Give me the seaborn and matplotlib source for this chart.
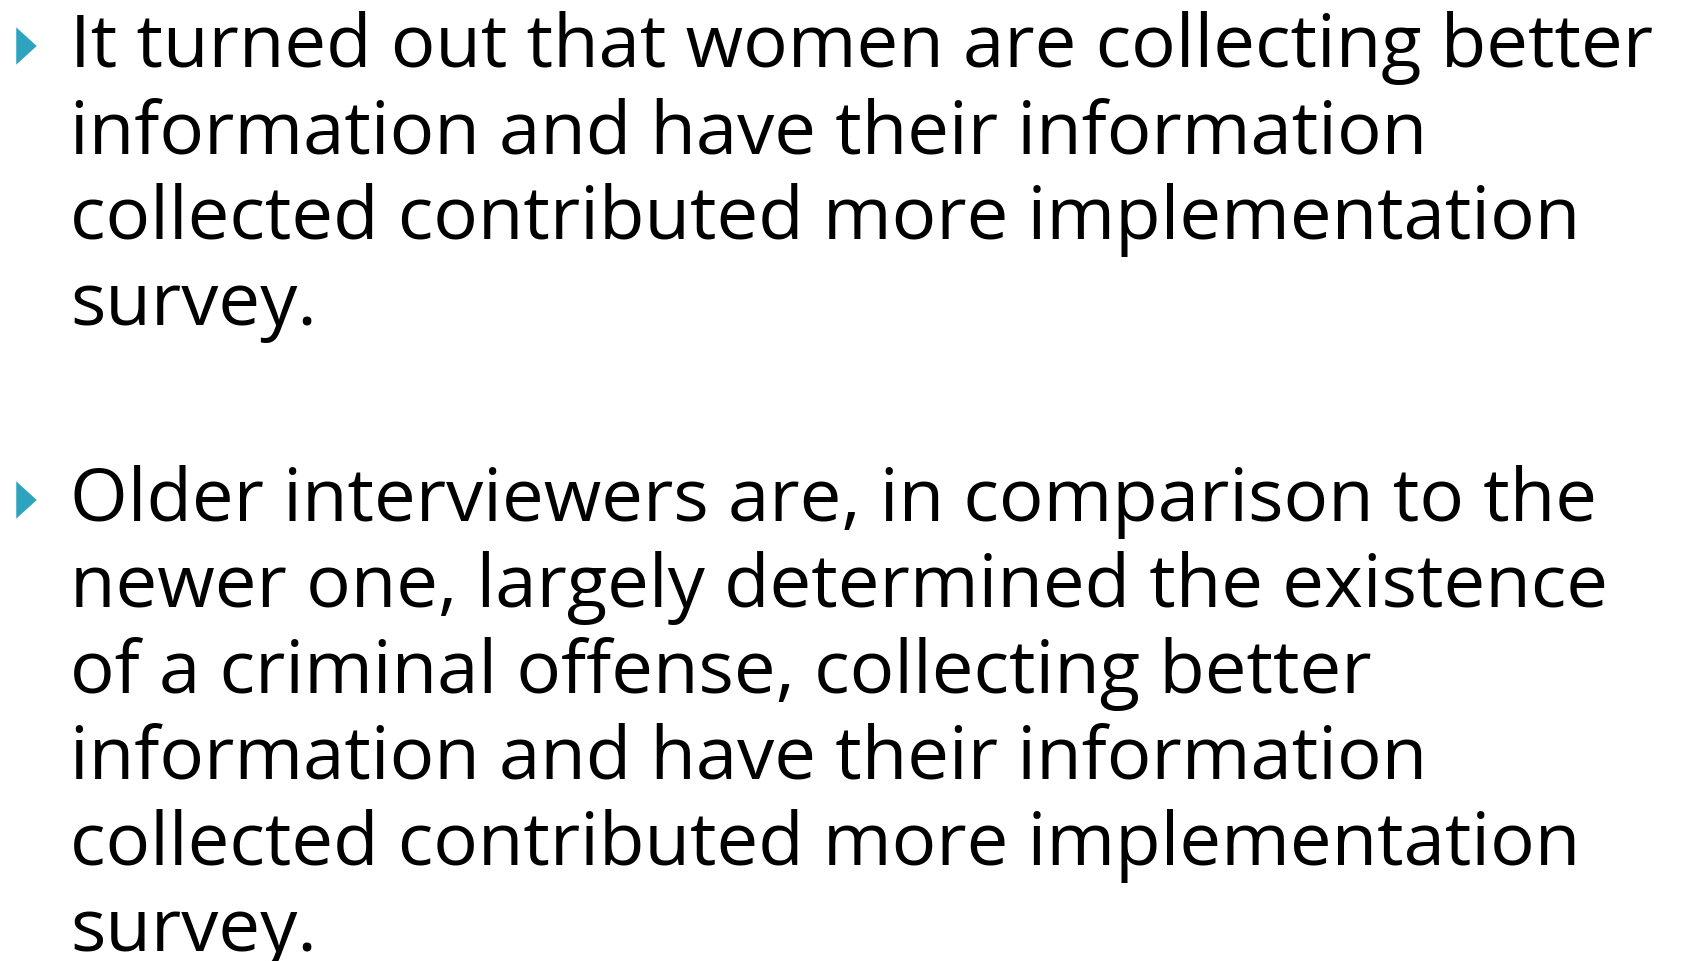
import matplotlib
matplotlib.use("Agg")
import matplotlib.pyplot as plt
import seaborn as sns
import pandas as pd
from matplotlib.path import Path

sns.set_theme(style="white")
plt.rcParams['font.family'] = ['Open Sans', 'DejaVu Sans']

para1 = ["It turned out that women are collecting better",
         "information and have their information",
         "collected contributed more implementation",
         "survey."]
para2 = ["Older interviewers are, in comparison to the",
         "newer one, largely determined the existence",
         "of a criminal offense, collecting better",
         "information and have their information",
         "collected contributed more implementation",
         "survey."]
paragraphs = [para1, para2]
para_start = [67, 521]   # baseline of first line (px)
line_step = 86
bullet_color = "#2DA3C0"

W, H = 1686, 962
fig = plt.figure(figsize=(W / 100, H / 100), dpi=100)
ax = fig.add_axes([0, 0, 1, 1])
ax.set_xlim(0, W)
ax.set_ylim(H, 0)
ax.axis("off")

tri = Path([(-0.55, -1), (0.55, 0), (-0.55, 1), (-0.55, -1)],
           [Path.MOVETO, Path.LINETO, Path.LINETO, Path.CLOSEPOLY])
bullets = pd.DataFrame({"x": [26.5, 26.5], "y": [s - 20 for s in para_start]})
sns.scatterplot(data=bullets, x="x", y="y", marker=tri, s=720,
                color=bullet_color, edgecolor="none", ax=ax, legend=False)

for start, lines in zip(para_start, paragraphs):
    for i, line in enumerate(lines):
        ax.text(70, start + i * line_step, line, fontsize=53.5, color="black",
                va="baseline", ha="left")

fig.savefig("out.png", dpi=100)
